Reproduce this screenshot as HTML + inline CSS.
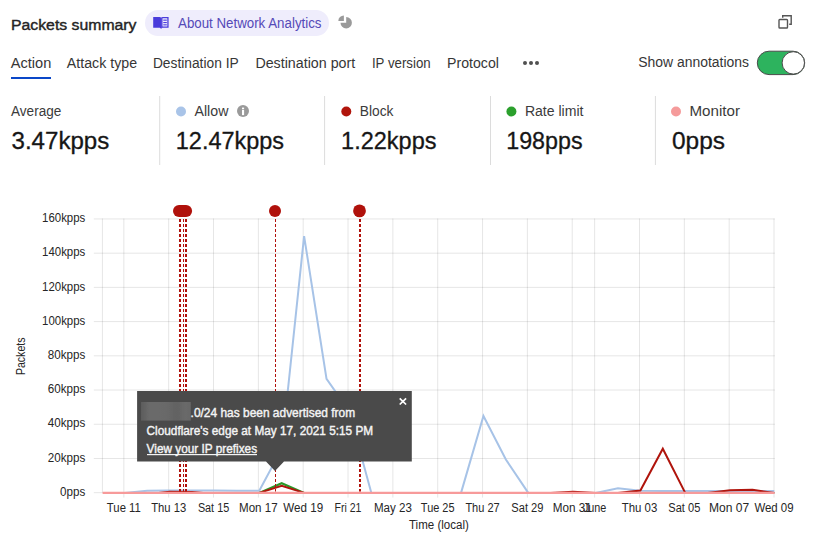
<!DOCTYPE html>
<html><head><meta charset="utf-8"><title>Packets summary</title>
<style>
html,body{margin:0;padding:0;background:#fff;width:816px;height:545px;overflow:hidden}
svg{display:block;font-family:"Liberation Sans", sans-serif}
</style></head>
<body>
<svg width="816" height="545" viewBox="0 0 816 545">
<defs><filter id="bl" x="-10%" y="-20%" width="120%" height="140%"><feGaussianBlur stdDeviation="0.7"/></filter><linearGradient id="bg1" x1="0" x2="1" y1="0" y2="0"><stop offset="0" stop-color="#5c5c5c"/><stop offset="0.18" stop-color="#6b6b6b"/><stop offset="0.5" stop-color="#696969"/><stop offset="0.72" stop-color="#626262"/><stop offset="0.9" stop-color="#6a6a6a"/><stop offset="1" stop-color="#666"/></linearGradient></defs>
<rect width="816" height="545" fill="#fff"/>
<text x="11" y="30" font-size="15.2" fill="#242424" font-weight="400" text-anchor="start" textLength="125.5" lengthAdjust="spacingAndGlyphs" stroke="#242424" stroke-width="0.4">Packets summary</text>
<rect x="145" y="10" width="184" height="26" rx="13" fill="#efedfc"/>
<g fill="#4a3cdb"><path d="M153.2 16.9 L159.6 16.9 L161.1 17.6 L161.1 28.7 L159.8 27.7 L153.2 27.7 Z"/><path d="M161.1 17.6 L162.6 16.9 L168.6 16.9 L168.6 27.7 L162.4 27.7 L161.1 28.7 Z M162.5 18.2 V26.5 H167.3 V18.2 Z"/><rect x="163.3" y="19.6" width="3.5" height="1.1"/><rect x="163.3" y="22" width="3.5" height="1.1"/><rect x="163.3" y="24.3" width="3.5" height="1.1"/></g>
<text x="178" y="28.2" font-size="14" fill="#5549b8" font-weight="400" text-anchor="start" textLength="143.5" lengthAdjust="spacingAndGlyphs">About Network Analytics</text>
<g fill="#9a9a9a"><path d="M346.2 22.8 V17.1 A5.7 5.7 0 1 1 340.5 22.8 Z"/><path d="M343.9 21 H338.3 A5.6 5.6 0 0 1 343.9 15.4 Z"/></g>
<g fill="none" stroke="#555" stroke-width="1.4"><rect x="779" y="19.5" width="8.5" height="8.5" rx="0.8"/><path d="M782.7 17.8 V15.8 H791.2 V24.3 H789.2"/></g>
<text x="10.8" y="68" font-size="14" fill="#363636" font-weight="400" text-anchor="start" textLength="40.5" lengthAdjust="spacingAndGlyphs">Action</text>
<text x="66.8" y="68" font-size="14" fill="#363636" font-weight="400" text-anchor="start" textLength="70.3" lengthAdjust="spacingAndGlyphs">Attack type</text>
<text x="152.9" y="68" font-size="14" fill="#363636" font-weight="400" text-anchor="start" textLength="85.8" lengthAdjust="spacingAndGlyphs">Destination IP</text>
<text x="255.4" y="68" font-size="14" fill="#363636" font-weight="400" text-anchor="start" textLength="99.8" lengthAdjust="spacingAndGlyphs">Destination port</text>
<text x="371.9" y="68" font-size="14" fill="#363636" font-weight="400" text-anchor="start" textLength="58.8" lengthAdjust="spacingAndGlyphs">IP version</text>
<text x="447.1" y="68" font-size="14" fill="#363636" font-weight="400" text-anchor="start" textLength="51.8" lengthAdjust="spacingAndGlyphs">Protocol</text>
<rect x="11" y="77" width="40" height="2" fill="#0a47c8"/>
<circle cx="525" cy="63" r="2" fill="#505050"/>
<circle cx="531" cy="63" r="2" fill="#505050"/>
<circle cx="537" cy="63" r="2" fill="#505050"/>
<text x="638.2" y="67" font-size="14" fill="#363636" font-weight="400" text-anchor="start" textLength="110.8" lengthAdjust="spacingAndGlyphs">Show annotations</text>
<rect x="757.3" y="51.2" width="47.4" height="23.4" rx="11.7" fill="#2db35e" stroke="#4a4a4a" stroke-width="1"/>
<circle cx="793.3" cy="62.9" r="11.2" fill="#fff" stroke="#4a4a4a" stroke-width="1"/>
<rect x="159.2" y="96" width="1" height="69" fill="#dcdcdc"/>
<rect x="324.1" y="96" width="1" height="69" fill="#dcdcdc"/>
<rect x="490.0" y="96" width="1" height="69" fill="#dcdcdc"/>
<rect x="654.9" y="96" width="1" height="69" fill="#dcdcdc"/>
<text x="11.0" y="116" font-size="13.8" fill="#3b3b3b" font-weight="400" text-anchor="start" textLength="50.3" lengthAdjust="spacingAndGlyphs">Average</text>
<text x="11.5" y="148.5" font-size="23.3" fill="#161616" font-weight="400" text-anchor="start" textLength="97.8" lengthAdjust="spacingAndGlyphs" stroke="#161616" stroke-width="0.3">3.47kpps</text>
<text x="194.5" y="116" font-size="13.8" fill="#3b3b3b" font-weight="400" text-anchor="start" textLength="33.9" lengthAdjust="spacingAndGlyphs">Allow</text>
<circle cx="181" cy="111.5" r="5" fill="#a9c4e8"/>
<text x="175.8" y="148.5" font-size="23.3" fill="#161616" font-weight="400" text-anchor="start" textLength="108.2" lengthAdjust="spacingAndGlyphs" stroke="#161616" stroke-width="0.3">12.47kpps</text>
<text x="359.8" y="116" font-size="13.8" fill="#3b3b3b" font-weight="400" text-anchor="start" textLength="33.7" lengthAdjust="spacingAndGlyphs">Block</text>
<circle cx="346.3" cy="111.5" r="5" fill="#b1150c"/>
<text x="341.1" y="148.5" font-size="23.3" fill="#161616" font-weight="400" text-anchor="start" textLength="95.4" lengthAdjust="spacingAndGlyphs" stroke="#161616" stroke-width="0.3">1.22kpps</text>
<text x="524.9" y="116" font-size="13.8" fill="#3b3b3b" font-weight="400" text-anchor="start" textLength="58.6" lengthAdjust="spacingAndGlyphs">Rate limit</text>
<circle cx="511.4" cy="111.5" r="5" fill="#2ba02d"/>
<text x="506.2" y="148.5" font-size="23.3" fill="#161616" font-weight="400" text-anchor="start" textLength="76.4" lengthAdjust="spacingAndGlyphs" stroke="#161616" stroke-width="0.3">198pps</text>
<text x="689.5" y="116" font-size="13.8" fill="#3b3b3b" font-weight="400" text-anchor="start" textLength="50.5" lengthAdjust="spacingAndGlyphs">Monitor</text>
<circle cx="676" cy="111.5" r="5" fill="#f59b9b"/>
<text x="672" y="148.5" font-size="23.3" fill="#161616" font-weight="400" text-anchor="start" textLength="53" lengthAdjust="spacingAndGlyphs" stroke="#161616" stroke-width="0.3">0pps</text>
<circle cx="243" cy="111" r="6" fill="#9a9a9a"/>
<rect x="242" y="107.6" width="2.1" height="1.6" fill="#fff"/><rect x="242" y="109.9" width="2.1" height="5.2" fill="#fff"/>
<line x1="93.8" y1="492.70" x2="774.8" y2="492.70" stroke="#000" stroke-opacity="0.1" stroke-width="1"/>
<line x1="93.8" y1="458.48" x2="774.8" y2="458.48" stroke="#000" stroke-opacity="0.1" stroke-width="1"/>
<line x1="93.8" y1="424.26" x2="774.8" y2="424.26" stroke="#000" stroke-opacity="0.1" stroke-width="1"/>
<line x1="93.8" y1="390.04" x2="774.8" y2="390.04" stroke="#000" stroke-opacity="0.1" stroke-width="1"/>
<line x1="93.8" y1="355.82" x2="774.8" y2="355.82" stroke="#000" stroke-opacity="0.1" stroke-width="1"/>
<line x1="93.8" y1="321.60" x2="774.8" y2="321.60" stroke="#000" stroke-opacity="0.1" stroke-width="1"/>
<line x1="93.8" y1="287.38" x2="774.8" y2="287.38" stroke="#000" stroke-opacity="0.1" stroke-width="1"/>
<line x1="93.8" y1="253.16" x2="774.8" y2="253.16" stroke="#000" stroke-opacity="0.1" stroke-width="1"/>
<line x1="93.8" y1="218.94" x2="774.8" y2="218.94" stroke="#000" stroke-opacity="0.1" stroke-width="1"/>
<line x1="102.4" y1="218.5" x2="102.4" y2="492.7" stroke="#000" stroke-opacity="0.1" stroke-width="1"/>
<line x1="123.85" y1="218.5" x2="123.85" y2="497.6" stroke="#000" stroke-opacity="0.1" stroke-width="1"/>
<line x1="168.69" y1="218.5" x2="168.69" y2="497.6" stroke="#000" stroke-opacity="0.1" stroke-width="1"/>
<line x1="213.53" y1="218.5" x2="213.53" y2="497.6" stroke="#000" stroke-opacity="0.1" stroke-width="1"/>
<line x1="258.36" y1="218.5" x2="258.36" y2="497.6" stroke="#000" stroke-opacity="0.1" stroke-width="1"/>
<line x1="303.20" y1="218.5" x2="303.20" y2="497.6" stroke="#000" stroke-opacity="0.1" stroke-width="1"/>
<line x1="348.04" y1="218.5" x2="348.04" y2="497.6" stroke="#000" stroke-opacity="0.1" stroke-width="1"/>
<line x1="392.88" y1="218.5" x2="392.88" y2="497.6" stroke="#000" stroke-opacity="0.1" stroke-width="1"/>
<line x1="437.72" y1="218.5" x2="437.72" y2="497.6" stroke="#000" stroke-opacity="0.1" stroke-width="1"/>
<line x1="482.55" y1="218.5" x2="482.55" y2="497.6" stroke="#000" stroke-opacity="0.1" stroke-width="1"/>
<line x1="527.39" y1="218.5" x2="527.39" y2="497.6" stroke="#000" stroke-opacity="0.1" stroke-width="1"/>
<line x1="572.23" y1="218.5" x2="572.23" y2="497.6" stroke="#000" stroke-opacity="0.1" stroke-width="1"/>
<line x1="594.65" y1="218.5" x2="594.65" y2="497.6" stroke="#000" stroke-opacity="0.1" stroke-width="1"/>
<line x1="639.49" y1="218.5" x2="639.49" y2="497.6" stroke="#000" stroke-opacity="0.1" stroke-width="1"/>
<line x1="684.33" y1="218.5" x2="684.33" y2="497.6" stroke="#000" stroke-opacity="0.1" stroke-width="1"/>
<line x1="729.16" y1="218.5" x2="729.16" y2="497.6" stroke="#000" stroke-opacity="0.1" stroke-width="1"/>
<line x1="774.00" y1="218.5" x2="774.00" y2="497.6" stroke="#000" stroke-opacity="0.1" stroke-width="1"/>
<text x="85.3" y="495.9" font-size="12.3" fill="#262626" font-weight="400" text-anchor="end" textLength="25.2" lengthAdjust="spacingAndGlyphs">0pps</text>
<text x="85.3" y="461.68" font-size="12.3" fill="#262626" font-weight="400" text-anchor="end" textLength="37.5" lengthAdjust="spacingAndGlyphs">20kpps</text>
<text x="85.3" y="427.46" font-size="12.3" fill="#262626" font-weight="400" text-anchor="end" textLength="37.5" lengthAdjust="spacingAndGlyphs">40kpps</text>
<text x="85.3" y="393.24" font-size="12.3" fill="#262626" font-weight="400" text-anchor="end" textLength="37.5" lengthAdjust="spacingAndGlyphs">60kpps</text>
<text x="85.3" y="359.02" font-size="12.3" fill="#262626" font-weight="400" text-anchor="end" textLength="37.5" lengthAdjust="spacingAndGlyphs">80kpps</text>
<text x="85.3" y="324.8" font-size="12.3" fill="#262626" font-weight="400" text-anchor="end" textLength="43.2" lengthAdjust="spacingAndGlyphs">100kpps</text>
<text x="85.3" y="290.58" font-size="12.3" fill="#262626" font-weight="400" text-anchor="end" textLength="43.2" lengthAdjust="spacingAndGlyphs">120kpps</text>
<text x="85.3" y="256.36" font-size="12.3" fill="#262626" font-weight="400" text-anchor="end" textLength="43.2" lengthAdjust="spacingAndGlyphs">140kpps</text>
<text x="85.3" y="222.14" font-size="12.3" fill="#262626" font-weight="400" text-anchor="end" textLength="43.2" lengthAdjust="spacingAndGlyphs">160kpps</text>
<text x="123.85" y="511.9" font-size="12.3" fill="#262626" font-weight="400" text-anchor="middle" textLength="34" lengthAdjust="spacingAndGlyphs">Tue 11</text>
<text x="168.69" y="511.9" font-size="12.3" fill="#262626" font-weight="400" text-anchor="middle" textLength="35" lengthAdjust="spacingAndGlyphs">Thu 13</text>
<text x="213.53" y="511.9" font-size="12.3" fill="#262626" font-weight="400" text-anchor="middle" textLength="31.3" lengthAdjust="spacingAndGlyphs">Sat 15</text>
<text x="258.36" y="511.9" font-size="12.3" fill="#262626" font-weight="400" text-anchor="middle" textLength="38.6" lengthAdjust="spacingAndGlyphs">Mon 17</text>
<text x="303.2" y="511.9" font-size="12.3" fill="#262626" font-weight="400" text-anchor="middle" textLength="39.8" lengthAdjust="spacingAndGlyphs">Wed 19</text>
<text x="348.04" y="511.9" font-size="12.3" fill="#262626" font-weight="400" text-anchor="middle" textLength="26.9" lengthAdjust="spacingAndGlyphs">Fri 21</text>
<text x="392.88" y="511.9" font-size="12.3" fill="#262626" font-weight="400" text-anchor="middle" textLength="37.9" lengthAdjust="spacingAndGlyphs">May 23</text>
<text x="437.72" y="511.9" font-size="12.3" fill="#262626" font-weight="400" text-anchor="middle" textLength="33.7" lengthAdjust="spacingAndGlyphs">Tue 25</text>
<text x="482.55" y="511.9" font-size="12.3" fill="#262626" font-weight="400" text-anchor="middle" textLength="34.3" lengthAdjust="spacingAndGlyphs">Thu 27</text>
<text x="527.39" y="511.9" font-size="12.3" fill="#262626" font-weight="400" text-anchor="middle" textLength="32.2" lengthAdjust="spacingAndGlyphs">Sat 29</text>
<text x="572.23" y="511.9" font-size="12.3" fill="#262626" font-weight="400" text-anchor="middle" textLength="39" lengthAdjust="spacingAndGlyphs">Mon 31</text>
<text x="594.65" y="511.9" font-size="12.3" fill="#262626" font-weight="400" text-anchor="middle" textLength="23.4" lengthAdjust="spacingAndGlyphs">June</text>
<text x="639.49" y="511.9" font-size="12.3" fill="#262626" font-weight="400" text-anchor="middle" textLength="35.5" lengthAdjust="spacingAndGlyphs">Thu 03</text>
<text x="684.33" y="511.9" font-size="12.3" fill="#262626" font-weight="400" text-anchor="middle" textLength="32" lengthAdjust="spacingAndGlyphs">Sat 05</text>
<text x="729.16" y="511.9" font-size="12.3" fill="#262626" font-weight="400" text-anchor="middle" textLength="40.2" lengthAdjust="spacingAndGlyphs">Mon 07</text>
<text x="774.0" y="511.9" font-size="12.3" fill="#262626" font-weight="400" text-anchor="middle" textLength="39.2" lengthAdjust="spacingAndGlyphs">Wed 09</text>
<text x="438.9" y="528.9" font-size="12.3" fill="#262626" font-weight="400" text-anchor="middle" textLength="59.8" lengthAdjust="spacingAndGlyphs">Time (local)</text>
<text transform="translate(25.2 356.3) rotate(-90)" font-size="12.3" fill="#262626" text-anchor="middle" textLength="37.6" lengthAdjust="spacingAndGlyphs">Packets</text>
<polyline points="103.45,492.90 124.75,492.90 147.17,490.65 169.59,490.48 192.01,490.48 214.43,490.48 236.84,490.65 259.26,490.65 281.68,449.07 304.10,236.05 326.52,378.92 348.94,410.57 371.36,492.90 393.78,492.90 416.20,492.90 438.62,492.90 461.03,492.90 483.45,416.05 505.87,459.51 528.29,492.90 550.71,492.90 573.13,492.90 595.55,492.90 617.97,488.25 640.39,490.65 662.81,490.99 685.23,490.99 707.64,490.99 730.06,490.99 752.48,490.99 774.30,490.99" fill="none" stroke="#a7c3e7" stroke-width="2" stroke-linejoin="miter"/>
<polyline points="259.26,492.90 281.68,483.29 304.10,492.90" fill="none" stroke="#2a9a2a" stroke-width="2.2" stroke-linejoin="miter"/>
<polyline points="158.38,492.90 169.59,491.84 192.01,492.02 203.22,492.90" fill="none" stroke="#b0140c" stroke-width="2" stroke-linejoin="miter"/>
<polyline points="259.26,492.90 281.68,485.86 304.10,492.90" fill="none" stroke="#b0140c" stroke-width="2" stroke-linejoin="miter"/>
<polyline points="550.71,492.90 573.13,491.84 595.55,492.90" fill="none" stroke="#b0140c" stroke-width="2" stroke-linejoin="miter"/>
<polyline points="617.97,492.90 640.39,490.48 662.81,448.73 685.23,492.90" fill="none" stroke="#b0140c" stroke-width="2" stroke-linejoin="miter"/>
<polyline points="707.64,492.90 730.06,490.30 752.48,489.79 774.30,492.90" fill="none" stroke="#b0140c" stroke-width="2" stroke-linejoin="miter"/>
<line x1="102.6" y1="492.90" x2="774.3" y2="492.90" stroke="#f79a9a" stroke-width="2.2"/>
<line x1="180" y1="219" x2="180" y2="491.5" stroke="#b0110b" stroke-width="2" stroke-dasharray="3 2"/>
<line x1="183.5" y1="219" x2="183.5" y2="491.5" stroke="#b0110b" stroke-width="1" stroke-dasharray="3 2"/>
<line x1="186" y1="219" x2="186" y2="491.5" stroke="#b0110b" stroke-width="2" stroke-dasharray="3 2"/>
<line x1="275.5" y1="219" x2="275.5" y2="491.5" stroke="#b0110b" stroke-width="1" stroke-dasharray="3 2"/>
<line x1="360" y1="219" x2="360" y2="491.5" stroke="#b0110b" stroke-width="2" stroke-dasharray="3 2"/>
<rect x="173" y="204.9" width="19.1" height="12" rx="6" fill="#b0110b"/>
<circle cx="275" cy="210.9" r="6" fill="#b0110b"/>
<circle cx="359.5" cy="210.9" r="6.4" fill="#b0110b"/>
<path d="M137.1 390.9 H411.8 V461.4 H284 L275 471 L266 461.4 H137.1 Z" fill="#4a4a4a"/>
<rect x="141" y="402" width="49.8" height="18.6" fill="url(#bg1)" filter="url(#bl)"/>
<text x="190.6" y="416.8" font-size="12.2" fill="#f4f4f4" font-weight="400" text-anchor="start" textLength="164.5" lengthAdjust="spacingAndGlyphs" stroke="#f4f4f4" stroke-width="0.4">.0/24 has been advertised from</text>
<text x="146.6" y="434.8" font-size="12.2" fill="#f4f4f4" font-weight="400" text-anchor="start" textLength="226.5" lengthAdjust="spacingAndGlyphs" stroke="#f4f4f4" stroke-width="0.4">Cloudflare's edge at May 17, 2021 5:15 PM</text>
<text x="146.6" y="452.8" font-size="12.2" fill="#f4f4f4" font-weight="400" text-anchor="start" textLength="110.5" lengthAdjust="spacingAndGlyphs" stroke="#f4f4f4" stroke-width="0.4">View your IP prefixes</text>
<rect x="147" y="454" width="110" height="1.2" fill="#f4f4f4"/>
<path d="M399.7 398.3 L406.1 404.5 M406.1 398.3 L399.7 404.5" stroke="#fff" stroke-width="1.7"/>
</svg>
</body></html>
